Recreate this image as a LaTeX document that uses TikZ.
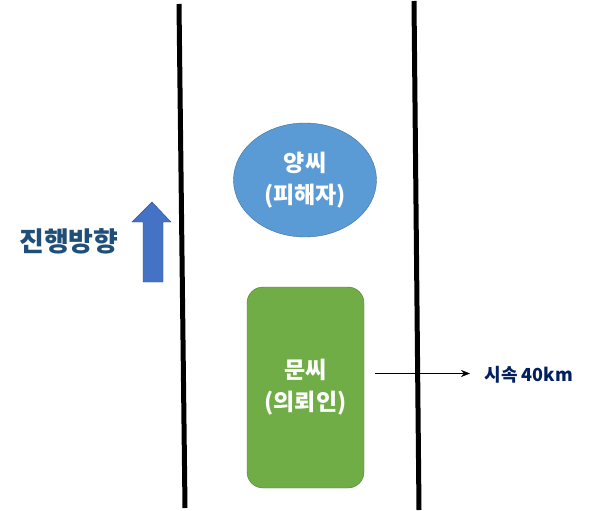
\documentclass[tikz,border=0pt]{standalone}
\usepackage{fontspec}
\usepackage{tikz}
\usetikzlibrary{arrows.meta}
\usetikzlibrary{positioning}
\usetikzlibrary{shapes}
\newfontfamily\kr{Noto Sans CJK KR}
\definecolor{bluefill}{HTML}{5B9BD5}
\definecolor{blueline}{HTML}{41719C}
\definecolor{greenfill}{HTML}{70AD47}
\definecolor{greenline}{HTML}{507E32}
\definecolor{arrowfill}{HTML}{4472C4}
\definecolor{arrowline}{HTML}{2F528F}
\definecolor{dirtext}{HTML}{1F4E79}
\definecolor{speedtext}{HTML}{002060}

\begin{document}
\begin{tikzpicture}[x=1pt,y=-1pt,road/.style={line width=5pt},person/.style={font=\kr\bfseries\fontsize{23}{32}\selectfont,text=white,align=center},victim/.style={person,ellipse,draw=blueline,fill=bluefill,minimum width=143pt,minimum height=114pt,inner sep=0pt},driver/.style={person,rectangle,rounded corners=16pt,draw=greenline,fill=greenfill,minimum width=117pt,minimum height=201pt,inner sep=0pt}]
            \useasboundingbox (0,0) rectangle (592,511);
            % road edges
            \draw[road] (179,4) -- (185,508);
            \draw[road] (414,1) -- (419,510);
            % cars
            \node[victim] (yang) at (305,180) {양씨\\(피해자)};
            \node[driver] (moon) at (305.5,387.5) {문씨\\(의뢰인)};
            % speed
            \node[font=\kr\bfseries\fontsize{18}{20}\selectfont,text=speedtext,anchor=west] (speed) at (481,375) {시속 40km};
            \draw[-{Stealth[length=9pt,width=7pt]},thin,shorten >=11pt] (moon.east) ++(11,-14) coordinate (start) -- (speed.west |- start);
            % direction
            \node[font=\kr\bfseries\fontsize{27}{30}\selectfont,text=dirtext] (dir) at (69,241) {진행방향};
            \draw[draw=arrowline,fill=arrowfill] (143,282) -- (143,222) -- (132,222) -- (152,202) -- (171,222) -- (163,222) -- (163,282) -- cycle;
          \end{tikzpicture}
\end{document}
